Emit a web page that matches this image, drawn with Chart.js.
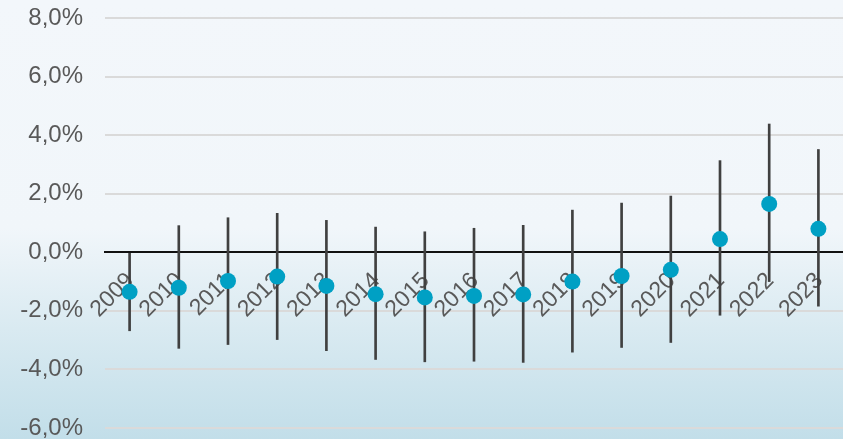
<!DOCTYPE html>
<html>
<head>
<meta charset="utf-8">
<script src="https://cdn.jsdelivr.net/npm/chart.js@4.4.0/dist/chart.umd.min.js"></script>
<style>
  html, body { margin: 0; padding: 0; }
  #wrap {
    width: 843px; height: 439px; position: relative;
    background: linear-gradient(180deg, #f3f7fb 0%, #f1f6fa 52%, #d9eaf1 75%, #c2dee9 100%);
  }
</style>
</head>
<body>
<div id="wrap"><canvas id="chart"></canvas></div>
<script>
// yearly estimate with its confidence interval (percent)
const years = ['2009','2010','2011','2012','2013','2014','2015','2016','2017','2018','2019','2020','2021','2022','2023'];
const estimate = [-1.35, -1.21, -0.98, -0.83, -1.15, -1.43, -1.54, -1.49, -1.44, -1.00, -0.81, -0.60, 0.45, 1.65, 0.80];
const lower = [-2.68, -3.28, -3.15, -2.98, -3.36, -3.66, -3.74, -3.72, -3.76, -3.41, -3.25, -3.08, -2.15, -1.00, -1.84];
const upper = [0.00, 0.91, 1.18, 1.33, 1.09, 0.86, 0.70, 0.82, 0.92, 1.44, 1.68, 1.92, 3.13, 4.38, 3.51];
const yTicks = [-6, -4, -2, 0, 2, 4, 6, 8];

const pct = v => v.toFixed(1).replace('.', ',') + '%';
const textColor = '#595959';
const family = 'Liberation Sans, Arial, sans-serif';

new Chart(document.getElementById('chart'), {
  type: 'bar',
  data: {
    labels: years,
    datasets: [
      {
        type: 'line',
        data: estimate,
        showLine: false,
        pointRadius: 8,
        pointHoverRadius: 8,
        pointBackgroundColor: '#00a0c4',
        pointBorderWidth: 0,
        order: 0
      },
      {
        type: 'bar',
        data: lower.map((lo, i) => [lo, upper[i]]),
        backgroundColor: '#404040',
        barThickness: 2,
        order: 1
      }
    ]
  },
  options: {
    responsive: true,
    maintainAspectRatio: false,
    animation: false,
    layout: { autoPadding: false, padding: { top: 18, bottom: 11, left: 0, right: 0 } },
    plugins: { legend: { display: false }, tooltip: { enabled: false } },
    scales: {
      x: {
        position: { y: 0 },
        offset: true,
        // axis sits on the zero line, so it takes no room of its own
        afterFit: s => { s.height = 0; s.paddingLeft = 0; s.paddingRight = 0; },
        grid: { display: false, drawTicks: false },
        border: { display: true, color: '#111', width: 2 },
        ticks: {
          color: textColor, font: { family, size: 23 },
          autoSkip: false, maxRotation: 45, minRotation: 45, padding: 15, labelOffset: 1
        }
      },
      y: {
        min: -6, max: 8,
        afterFit: s => { s.width = 105; s.paddingTop = 0; s.paddingBottom = 0; },
        afterBuildTicks: s => { s.ticks = yTicks.map(v => ({ value: v })); },
        grid: { color: '#dadada', lineWidth: 2, drawTicks: false },
        border: { display: false },
        ticks: { color: textColor, font: { family, size: 24 }, padding: 22, callback: v => pct(v) }
      }
    }
  }
});
</script>
</body>
</html>
